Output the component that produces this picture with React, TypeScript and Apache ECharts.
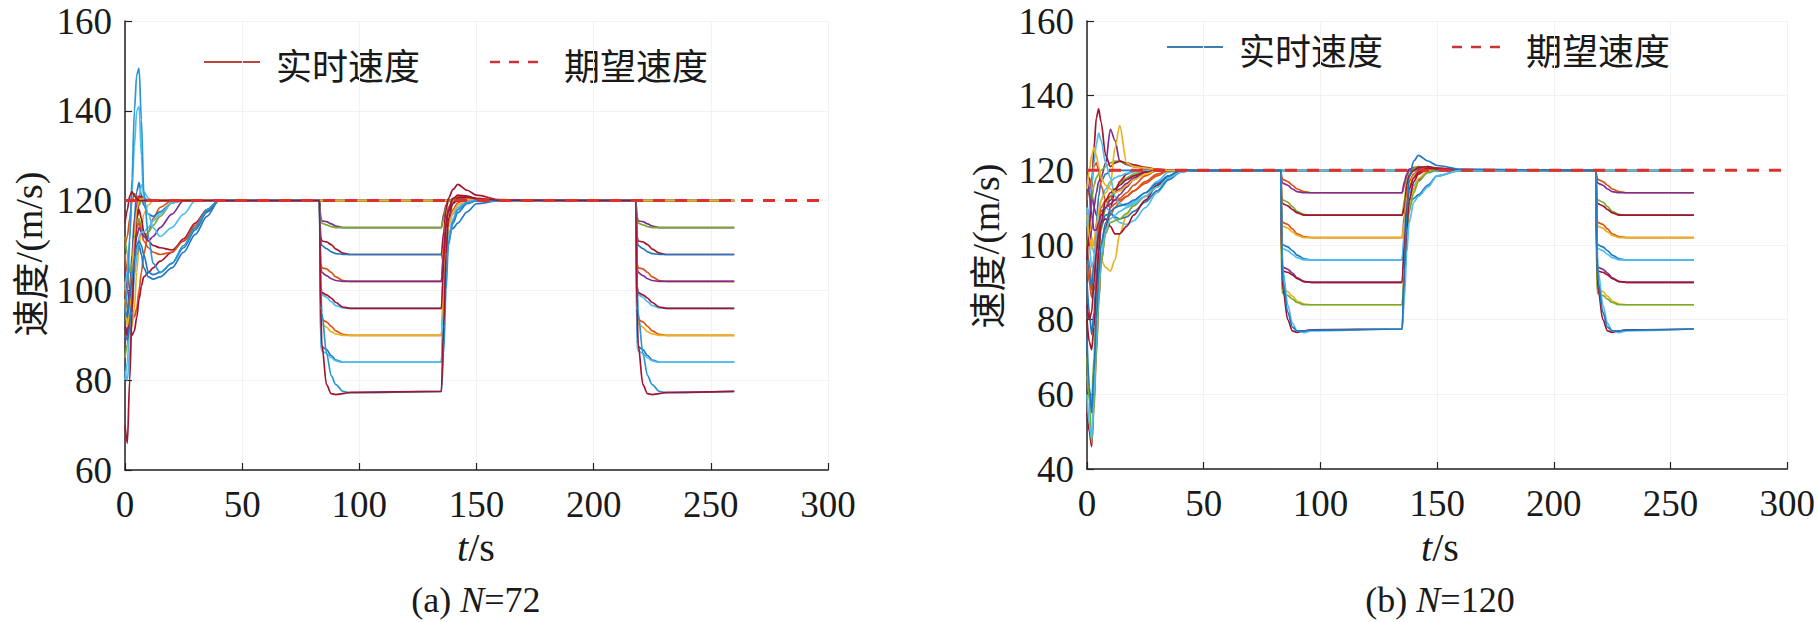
import React, { useEffect, useRef } from "react";
import * as echarts from "echarts";

// ---------- shared ----------
const xTicks = [0, 50, 100, 150, 200, 250, 300];
const expT = [0, 300];
const expV = [120, 120];

const B = "#1f78c1", O = "#D95319", Y = "#EDB120", P = "#7E2F8E", G = "#77AC30", C = "#4DBEEE", R = "#A2142F", SB = "#2B95D6";

// ---------- (a) N=72 ----------
const aT1 = [0, 1, 2, 3, 4, 5, 6, 7, 8, 10, 12, 15, 20, 25, 30, 35, 40, 83];
const aT2 = [83.5, 84, 86, 88, 90, 93, 96, 135];
const aT3 = [136, 137, 138, 140, 142, 146, 150, 160, 218];
const aT4 = [218.5, 219, 221, 223, 225, 228, 231, 260];
const aColors = [O, B, C, R, G, Y, P, G, R, B, O, P, C, R, O, Y, B, C, SB, R];
const aInit = [
  [108, 104, 100, 96, 94, 96, 100, 104, 108, 113, 116, 118.5, 120, 120, 120, 120, 120, 120],
  [93, 95, 100, 108, 116, 122, 124, 121, 119, 117, 116.5, 117.5, 119.5, 120, 120, 120, 120, 120],
  [80, 84, 92, 102, 112, 118, 121, 123.5, 122, 120.5, 120, 120, 120, 120, 120, 120, 120, 120],
  [100, 96, 92, 90, 91, 94, 98, 101, 103, 104, 105, 106.5, 108.5, 111.5, 115, 118, 120, 120],
  [85, 88, 95, 103, 110, 116, 119, 120, 120, 120, 120, 120, 120, 120, 120, 120, 120, 120],
  [102, 98, 94, 92, 96, 104, 110, 114, 117, 119, 120, 120, 120, 120, 120, 120, 120, 120],
  [88, 92, 98, 106, 114, 119, 121, 120.5, 120, 120, 120, 120, 120, 120, 120, 120, 120, 120],
  [112, 108, 104, 106, 110, 114, 116, 114, 112, 113, 114.5, 116.5, 119.5, 120, 120, 120, 120, 120],
  [92, 90, 95, 102, 110, 116, 118, 116, 113, 111, 110, 109.5, 109, 111, 114, 117.5, 120, 120],
  [90, 89, 92, 98, 104, 108, 110, 108, 105, 103, 102.5, 103, 105, 108.5, 112.5, 116.5, 120, 120],
  [100, 96, 98, 104, 110, 114, 115, 113, 111, 109.5, 108.5, 108, 108.5, 111, 114.5, 118, 120, 120],
  [105, 100, 98, 102, 108, 112, 114, 113, 112, 111, 112, 114, 117, 120, 120, 120, 120, 120],
  [82, 80, 86, 95, 103, 108, 112, 113, 113, 114, 115.5, 117, 119.5, 120, 120, 120, 120, 120],
  [70, 66, 80, 95, 108, 116, 120, 121, 120.5, 120, 120, 120, 120, 120, 120, 120, 120, 120],
  [110, 112, 116, 120, 121.5, 121, 120.5, 120, 120, 120, 120, 120, 120, 120, 120, 120, 120, 120],
  [98, 92, 96, 104, 112, 118, 120, 120.5, 120, 120, 120, 120, 120, 120, 120, 120, 120, 120],
  [96, 94, 98, 103, 107, 110, 111, 110, 108, 104, 103.5, 104, 106, 109.5, 113.5, 117.5, 120, 120],
  [100, 104, 112, 122, 132, 140, 141, 130, 120, 117, 114, 112, 114, 117, 120, 120, 120, 120],
  [95, 100, 111, 125, 140, 148, 149.5, 138, 122, 112, 106, 104, 106, 110, 114, 118, 120, 120],
  [115, 118, 121, 122, 121, 120.5, 120, 120, 120, 120, 120, 120, 120, 120, 120, 120, 120, 120],
];
const aDrop = [
  [120, 120, 120, 120, 120, 120, 120, 120],
  [120, 120, 120, 120, 120, 120, 120, 120],
  [120, 120, 120, 120, 120, 120, 120, 120],
  [120, 120, 120, 120, 120, 120, 120, 120],
  [120, 120, 120, 120, 120, 120, 120, 120],
  [120, 120, 120, 120, 120, 120, 120, 120],
  [116.5, 115.5, 115.3, 114.8, 114.3, 114, 114, 114],
  [116, 115, 114.6, 114.2, 114, 114, 114, 114],
  [112, 111, 110.8, 110.2, 109.2, 108.3, 108, 108],
  [111, 110, 109.3, 108.6, 108.2, 108, 108, 108],
  [106, 105, 104.8, 104, 103, 102.2, 102, 102],
  [105, 104, 103.3, 102.6, 102.2, 102, 102, 102],
  [100, 99, 98.5, 97.5, 96.6, 96.1, 96, 96],
  [101, 99.5, 99, 98.3, 97.3, 96.3, 96, 96],
  [95, 93.5, 93, 92, 91, 90.2, 90, 90],
  [94, 92.5, 91.8, 90.8, 90.3, 90, 90, 90],
  [89, 87.5, 86.8, 85.5, 84.5, 84, 84, 84],
  [88, 86.5, 86, 85, 84.3, 84, 84, 84],
  [102, 95, 86, 81, 79, 77.5, 77.2, 77.5],
  [96, 88, 79, 77, 76.8, 77, 77.3, 77.5],
];
const aRec = [
  [120, 120, 120, 120, 120, 120, 120, 120, 120],
  [120, 120, 120, 120, 120, 120, 120, 120, 120],
  [120, 120, 120, 120, 120, 120, 120, 120, 120],
  [120, 120, 120, 120, 120, 120, 120, 120, 120],
  [120, 120, 120, 120, 120, 120, 120, 120, 120],
  [120, 120, 120, 120, 120, 120, 120, 120, 120],
  [117, 119, 120, 120.4, 120.3, 120.1, 120, 120, 120],
  [116, 118.5, 119.8, 120.5, 120.6, 120.3, 120.1, 120, 120],
  [113, 118, 120.5, 122.5, 123.6, 122.3, 121.2, 120.2, 120],
  [106, 111, 113, 113.8, 115, 117.5, 119.3, 120, 120],
  [110, 116, 118.5, 120.3, 121, 120.8, 120.4, 120.1, 120],
  [108, 115, 117.5, 119.3, 120.2, 120.4, 120.2, 120, 120],
  [104, 112, 115, 117, 118.5, 119.8, 120.2, 120, 120],
  [106, 114, 118, 120.5, 121.2, 121, 120.5, 120.1, 120],
  [100, 110, 115, 118, 119.5, 120.4, 120.3, 120, 120],
  [98, 108, 114, 117.5, 119, 120.2, 120.3, 120.1, 120],
  [94, 104, 111, 115, 117.3, 119.3, 120, 120, 120],
  [96, 106, 112, 116, 118, 119.7, 120.1, 120, 120],
  [86, 100, 110, 115.5, 118, 119.5, 120, 120, 120],
  [92, 108, 116, 119.5, 120.6, 120.8, 120.4, 120.1, 120],
];
const aYTicks = [60, 80, 100, 120, 140, 160];

// ---------- (b) N=120 ----------
const bT1 = [0, 1, 2, 3, 4, 5, 6, 8, 10, 12, 14, 17, 20, 25, 30, 35, 40, 45, 83];
const bT2 = [83.5, 84, 86, 88, 90, 93, 96, 135];
const bT3 = [136, 137, 138, 140, 142, 146, 150, 160, 218];
const bT4 = [218.5, 219, 221, 223, 225, 228, 231, 260];
const bColors = [O, G, P, R, C, B, Y, C, O, P, G, R, O, Y, B, C, P, R, Y, G, R, C, B];
const bInit = [
  [100, 95, 90, 88, 90, 95, 100, 105, 108, 110, 111.5, 113, 114.5, 117, 119, 120, 120, 120, 120],
  [65, 60, 58, 70, 84, 96, 104, 110, 113, 115, 116.5, 118, 119, 120, 120, 120, 120, 120, 120],
  [120, 118, 114, 110, 108, 108, 109, 110, 112, 114, 115, 116.5, 118, 119.5, 120, 120, 120, 120, 120],
  [55, 50, 46, 58, 72, 85, 95, 104, 110, 114, 117, 119, 120, 120, 120, 120, 120, 120, 120],
  [108, 104, 100, 98, 100, 104, 108, 110, 109, 107, 106, 105.5, 106.5, 110, 114, 117.5, 119.5, 120, 120],
  [98, 92, 88, 96, 106, 113, 117, 119, 119.8, 120, 120, 120, 120, 120, 120, 120, 120, 120, 120],
  [110, 106, 102, 100, 98, 97, 96, 94, 93, 96, 103, 108, 111, 113, 115.5, 118, 119.5, 120, 120],
  [110, 100, 94, 96, 102, 108, 112, 115, 117, 118, 118.5, 119.2, 119.6, 120, 120, 120, 120, 120, 120],
  [112, 115, 118, 121, 122, 120, 116, 112, 110, 111, 112.5, 114, 116, 118.5, 120, 120, 120, 120, 120],
  [102, 100, 104, 110, 114, 117, 118, 122, 131, 128, 122.5, 121.5, 121, 120.5, 120.2, 120, 120, 120, 120],
  [100, 106, 112, 116, 118, 119, 120, 121, 122, 122.5, 122.3, 121.8, 121.2, 120.6, 120.2, 120, 120, 120, 120],
  [96, 104, 115, 126, 134, 136.5, 133, 124, 121, 122, 122.5, 122, 121.5, 120.8, 120.3, 120.1, 120, 120, 120],
  [95, 90, 86, 90, 98, 105, 110, 112, 113, 112, 112, 113, 114.5, 116.5, 118.5, 120, 120, 120, 120],
  [108, 102, 99, 101, 105, 109, 112, 114, 116, 126, 132, 122, 121, 120.6, 120.2, 120, 120, 120, 120],
  [90, 82, 76, 82, 92, 100, 105, 108, 108.5, 107.5, 107, 107.5, 109, 111.5, 114.5, 117.5, 119.5, 120, 120],
  [105, 110, 116, 122, 127, 130, 128, 122, 118, 113, 111, 110.5, 111.5, 114, 117, 119.5, 120, 120, 120],
  [118, 114, 108, 104, 104, 106, 108, 110, 111, 112, 113.5, 115.5, 117.5, 119.5, 120, 120, 120, 120, 120],
  [80, 74, 72, 78, 88, 98, 106, 112, 114, 115, 116, 117.5, 118.5, 119.5, 120, 120, 120, 120, 120],
  [115, 120, 124, 126, 124, 121, 118, 116, 115, 114, 114.5, 116, 117.5, 119, 120, 120, 120, 120, 120],
  [70, 58, 47, 56, 70, 84, 95, 103, 106, 106.5, 107, 108.5, 110.5, 113, 116, 118.5, 120, 120, 120],
  [84, 80, 82, 90, 98, 103, 106, 107, 105, 103, 103, 105, 108, 112, 116, 118.5, 120, 120, 120],
  [60, 52, 48, 60, 75, 88, 97, 104, 107, 108, 109, 110, 111, 113, 115.5, 118, 119.5, 120, 120],
  [75, 62, 55, 66, 80, 92, 100, 106, 109, 110, 110.5, 111, 112, 114, 116.5, 118.5, 120, 120, 120],
];
const bDrop = [
  [120, 120, 120, 120, 120, 120, 120, 120],
  [120, 120, 120, 120, 120, 120, 120, 120],
  [120, 120, 120, 120, 120, 120, 120, 120],
  [120, 120, 120, 120, 120, 120, 120, 120],
  [120, 120, 120, 120, 120, 120, 120, 120],
  [120, 120, 120, 120, 120, 120, 120, 120],
  [120, 120, 120, 120, 120, 120, 120, 120],
  [120, 120, 120, 120, 120, 120, 120, 120],
  [118, 117.5, 117, 116, 115, 114.3, 114, 114],
  [117, 116.5, 116, 115, 114.3, 114, 114, 114],
  [112.5, 112, 111.5, 110.3, 109, 108.2, 108, 108],
  [111.5, 111, 110.5, 109.5, 108.6, 108, 108, 108],
  [106.5, 106, 105.5, 104.3, 103, 102.2, 102, 102],
  [105.5, 105, 104.5, 103.5, 102.6, 102, 102, 102],
  [100.5, 100, 99.5, 98.5, 97.3, 96.3, 96, 96],
  [99.5, 99, 98.5, 97.5, 96.6, 96, 96, 96],
  [94.5, 94, 93.5, 92.5, 91.2, 90.2, 90, 90],
  [93.5, 93, 92.7, 92, 91, 90.2, 90, 90],
  [88.5, 88, 87.5, 86.3, 85, 84.2, 84, 84],
  [87.5, 87, 86.5, 85.5, 84.6, 84, 84, 84],
  [95, 88, 80, 77, 76.6, 77, 77.3, 77.5],
  [100, 93, 84, 79, 77, 76.5, 77, 77.5],
  [97, 90, 82, 78, 77, 77, 77.2, 77.5],
];
const bRec = [
  [120, 120, 120, 120, 120, 120, 120, 120, 120],
  [120, 120, 120, 120, 120, 120, 120, 120, 120],
  [120, 120, 120, 120, 120, 120, 120, 120, 120],
  [120, 120, 120, 120, 120, 120, 120, 120, 120],
  [120, 120, 120, 120, 120, 120, 120, 120, 120],
  [120, 120, 120, 120, 120, 120, 120, 120, 120],
  [120, 120, 120, 120, 120, 120, 120, 120, 120],
  [120, 120, 120, 120, 120, 120, 120, 120, 120],
  [116, 118.5, 120, 120.8, 121, 120.6, 120.2, 120, 120],
  [117, 119, 120.3, 120.5, 120.4, 120.2, 120, 120, 120],
  [112, 117, 119, 120.5, 121, 120.8, 120.4, 120.1, 120],
  [110, 116, 118.5, 120, 120.8, 121, 120.6, 120.1, 120],
  [108, 114, 117, 119, 120, 120.6, 120.4, 120.1, 120],
  [106, 112, 116, 118.5, 119.6, 120.4, 120.3, 120, 120],
  [102, 108, 111, 112.5, 113.5, 116, 118.5, 120, 120],
  [104, 111, 114, 116, 117.5, 119.3, 120, 120, 120],
  [98, 106, 111, 115, 117.5, 119.6, 120.2, 120, 120],
  [100, 110, 115, 118, 119.5, 120.6, 120.5, 120.1, 120],
  [94, 104, 110, 115, 117.8, 119.8, 120.3, 120, 120],
  [92, 102, 109, 114, 117, 119.5, 120.2, 120, 120],
  [90, 104, 112, 117, 119, 120.5, 120.4, 120.1, 120],
  [86, 98, 106, 111.5, 113, 115.5, 118.5, 120, 120],
  [94, 108, 118, 122.5, 124, 122.5, 121.3, 120.3, 120],
];
const bYTicks = [40, 60, 80, 100, 120, 140, 160];

const SERIF = "Liberation Serif";
const TXT = "#1a1a1a";

function pts(T1: number[], init: number[], T2: number[], drop: number[], T3: number[], rec: number[], T4: number[]) {
  return [
    ...T1.map((t, i) => [t, init[i]]),
    ...T2.map((t, i) => [t, drop[i]]),
    ...T3.map((t, i) => [t, rec[i]]),
    ...T4.map((t, i) => [t, drop[i]]),
  ];
}

function axes(gi: number, yTicks: number[]) {
  const common = {
    gridIndex: gi,
    type: "value" as const,
    axisLine: { show: true, onZero: false, lineStyle: { color: "#222", width: 1.5 } },
    axisTick: { show: true, inside: true, length: 7, lineStyle: { color: "#222", width: 1.2 } },
    splitLine: { show: true, lineStyle: { color: "#f2f2f2", width: 1 } },
  };
  const lbl = { fontSize: 37, fontFamily: SERIF, color: TXT, showMinLabel: true, showMaxLabel: true };
  const x = {
    ...common,
    min: xTicks[0],
    max: xTicks[xTicks.length - 1],
    interval: xTicks[1] - xTicks[0],
    axisLabel: { ...lbl, margin: 16 },
  };
  const y = {
    ...common,
    min: yTicks[0],
    max: yTicks[yTicks.length - 1],
    interval: yTicks[1] - yTicks[0],
    axisLabel: { ...lbl, margin: 13 },
  };
  return { x, y };
}

function vehicleSeries(gi: number, colors: string[], T1: number[], init: number[][], T2: number[], drop: number[][], T3: number[], rec: number[][], T4: number[]) {
  return init.map((row, k) => ({
    type: "line",
    name: (gi === 0 ? "a" : "b") + k,
    xAxisIndex: gi,
    yAxisIndex: gi,
    data: pts(T1, row, T2, drop[k], T3, rec[k], T4),
    showSymbol: false,
    symbol: "none",
    smooth: 0.3,
    smoothMonotone: "x",
    lineStyle: { color: colors[k], width: 1.7 },
    itemStyle: { color: colors[k] },
    z: 2,
    silent: true,
  }));
}

function expSeries(gi: number) {
  return {
    type: "line",
    name: (gi === 0 ? "a" : "b") + "exp",
    xAxisIndex: gi,
    yAxisIndex: gi,
    data: expT.map((t, i) => [t, expV[i]]),
    showSymbol: false,
    symbol: "none",
    lineStyle: { color: "#e0302c", width: 3, type: [12, 10] },
    z: 5,
    silent: true,
  };
}

function legend(x0: number, y0: number, solid: string, x2: number) {
  return [
    { type: "line", shape: { x1: x0, y1: y0, x2: x0 + 56, y2: y0 }, style: { stroke: solid, lineWidth: 2 } },
    { type: "text", x: x0 + 72, y: y0 + 2, style: { text: "实时速度", fontSize: 36, fontFamily: "Noto Sans CJK SC", fill: TXT, verticalAlign: "middle", align: "left" } },
    { type: "line", shape: { x1: x2, y1: y0, x2: x2 + 56, y2: y0 }, style: { stroke: "#c9343a", lineWidth: 2.5, lineDash: [10, 9] } },
    { type: "text", x: x2 + 74, y: y0 + 2, style: { text: "期望速度", fontSize: 36, fontFamily: "Noto Sans CJK SC", fill: TXT, verticalAlign: "middle", align: "left" } },
  ];
}

function labels(cx: number, ylx: number, yly: number, tag: string, n: string) {
  const rich = {
    i: { fontStyle: "italic", fontSize: 36, fontFamily: SERIF, fill: TXT },
    n: { fontSize: 36, fontFamily: SERIF, fill: TXT },
    ti: { fontStyle: "italic", fontSize: 40, fontFamily: SERIF, fill: TXT },
    tn: { fontSize: 40, fontFamily: SERIF, fill: TXT },
    c: { fontSize: 37, fontFamily: "Noto Sans CJK SC", fill: TXT },
    m: { fontSize: 38, fontFamily: SERIF, fill: TXT },
  };
  return [
    { type: "text", x: ylx, y: yly, rotation: Math.PI / 2, style: { text: "{c|速度}{m|/(m/s)}", rich, align: "center", verticalAlign: "middle" } },
    { type: "text", x: cx, y: 547, style: { text: "{ti|t}{tn|/s}", rich, align: "center", verticalAlign: "middle" } },
    { type: "text", x: cx, y: 600, style: { text: `{n|(${tag}) }{i|N}{n|=${n}}`, rich, align: "center", verticalAlign: "middle" } },
  ];
}

export default function App() {
  const ref = useRef<HTMLDivElement>(null);
  useEffect(() => {
    if (!ref.current) return;
    const chart = echarts.init(ref.current, undefined, { renderer: "svg" });
    const a = axes(0, aYTicks);
    const b = axes(1, bYTicks);
    chart.setOption({
      animation: false,
      backgroundColor: "#ffffff",
      grid: [
        { left: 125, top: 21, width: 703, height: 449 },
        { left: 1087, top: 21, width: 706, height: 448 },
      ],
      xAxis: [a.x, b.x],
      yAxis: [a.y, b.y],
      series: [
        ...vehicleSeries(0, aColors, aT1, aInit, aT2, aDrop, aT3, aRec, aT4),
        expSeries(0),
        ...vehicleSeries(1, bColors, bT1, bInit, bT2, bDrop, bT3, bRec, bT4),
        expSeries(1),
      ],
      graphic: [
        ...legend(204, 62, "#b5473f", 490),
        ...legend(1167, 47, "#3f7fb0", 1452),
        ...labels(476, 29, 254, "a", "72"),
        ...labels(1440, 986, 246, "b", "120"),
      ],
    });
    return () => chart.dispose();
  }, []);
  return <div ref={ref} style={{ position: "absolute", left: 0, top: 0, width: "1818px", height: "622px", background: "#fff" }} />;
}
